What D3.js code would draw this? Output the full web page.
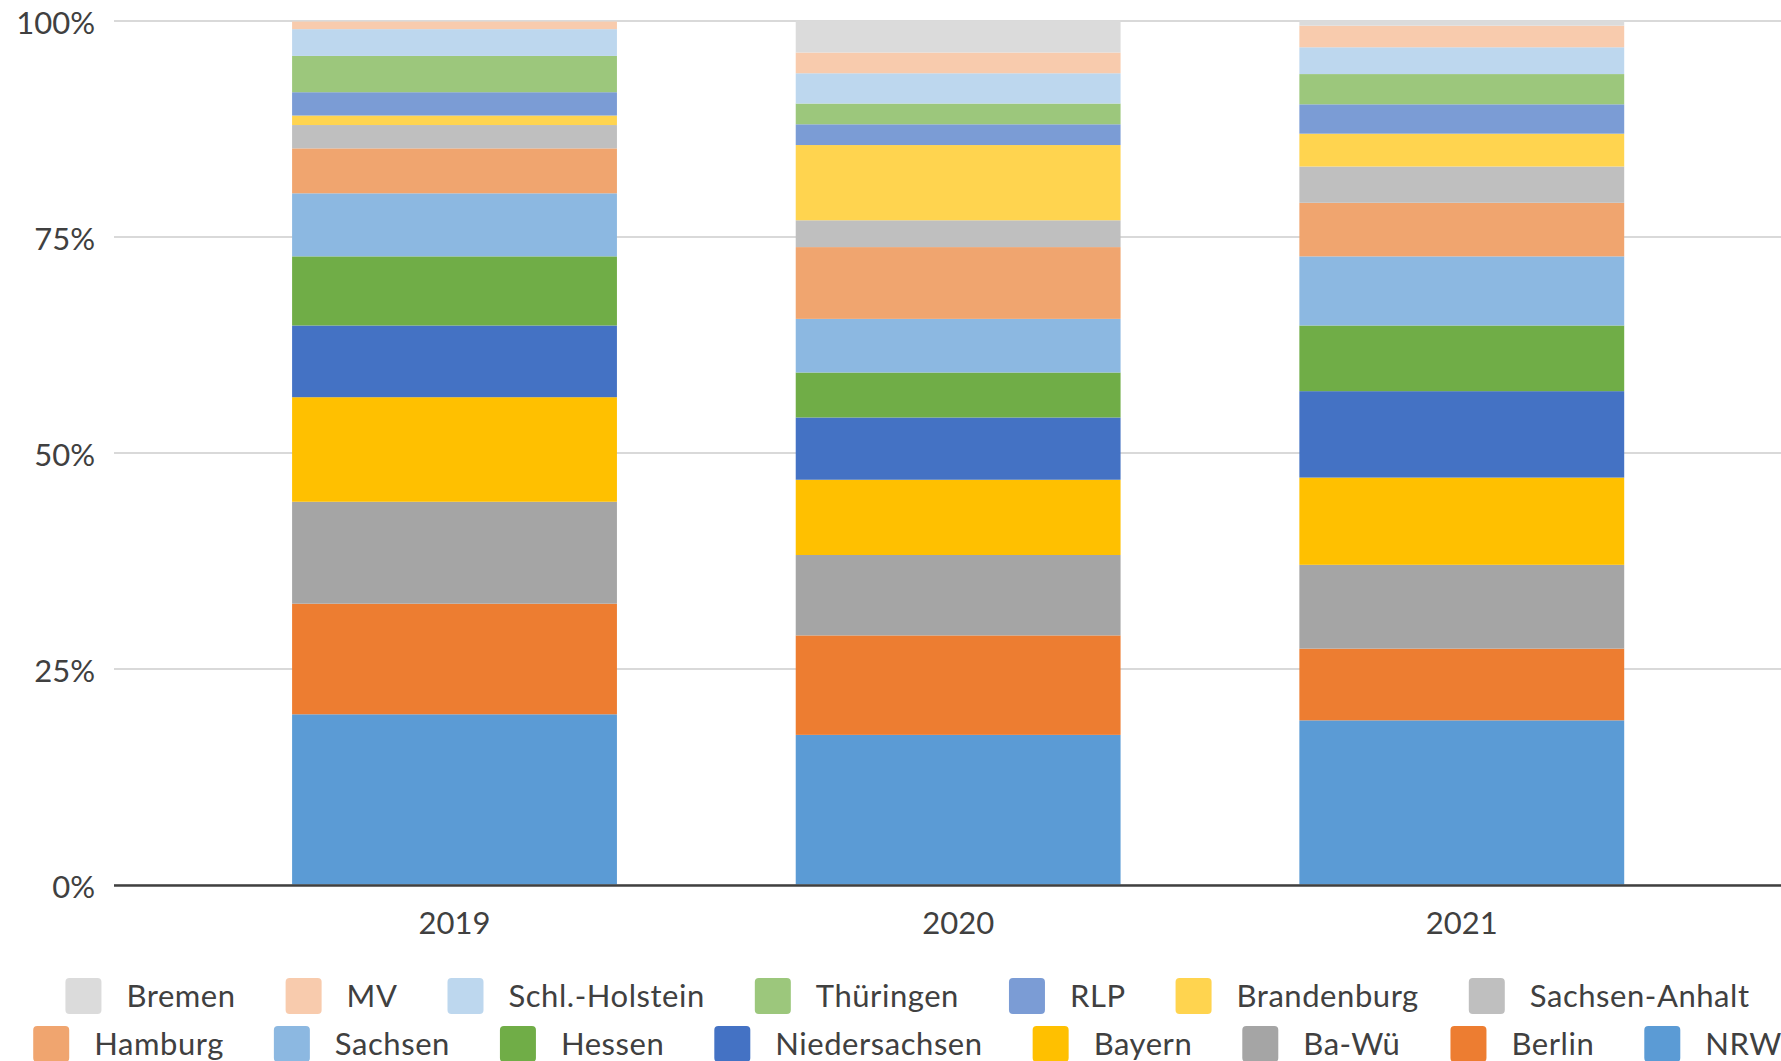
<!DOCTYPE html>
<html>
<head>
<meta charset="utf-8">
<script src="https://cdn.jsdelivr.net/npm/d3@7"></script>
<style>
  html, body { margin: 0; padding: 0; background: #ffffff; }
  svg { display: block; }
  text { font-family: Lato, "Open Sans", sans-serif; fill: #404040; }
</style>
</head>
<body>
<svg id="chart" width="1781" height="1061"></svg>
<script>
// ---- data ----
const years = ["2019", "2020", "2021"];
// series in stacking order (bottom -> top)
const states = ["NRW", "Berlin", "Ba-Wü", "Bayern", "Niedersachsen", "Hessen", "Sachsen",
  "Hamburg", "Sachsen-Anhalt", "Brandenburg", "RLP", "Thüringen", "Schl.-Holstein", "MV", "Bremen"];
const values2019 = [19.7, 12.8, 11.8, 12.1, 8.3, 8.0, 7.3, 5.2, 2.7, 1.1, 2.7, 4.2, 3.1, 0.9, 0.1];
const values2020 = [17.3, 11.5, 9.3, 8.7, 7.2, 5.2, 6.2, 8.3, 3.1, 8.7, 2.4, 2.4, 3.5, 2.4, 3.7];
const values2021 = [19.0, 8.3, 9.7, 10.1, 10.0, 7.6, 8.0, 6.2, 4.2, 3.8, 3.4, 3.5, 3.1, 2.5, 0.6];
const colors = ["#5B9BD5", "#ED7D31", "#A5A5A5", "#FFC000", "#4472C4", "#70AD47", "#8CB8E1",
  "#F0A56F", "#BFBFBF", "#FFD44F", "#7B9CD5", "#9CC77C", "#BDD7EE", "#F8CBAD", "#DBDBDB"];
const yTicks = [0, 0.25, 0.5, 0.75, 1];
// legend rows (reverse series order, as in the original)
const legendRow1 = ["Bremen", "MV", "Schl.-Holstein", "Thüringen", "RLP", "Brandenburg", "Sachsen-Anhalt"];
const legendRow2 = ["Hamburg", "Sachsen", "Hessen", "Niedersachsen", "Bayern", "Ba-Wü", "Berlin", "NRW"];

// ---- build table ----
const valueRows = [values2019, values2020, values2021];
const table = years.map((yr, i) => {
  const row = { year: yr };
  states.forEach((s, j) => { row[s] = valueRows[i][j]; });
  return row;
});

const W = 1781, H = 1061;
const svg = d3.select("#chart");
svg.append("rect").attr("width", W).attr("height", H).attr("fill", "#fff");

const plotLeft = 114, plotRight = 1781;
const x = d3.scaleBand().domain(years).range([202.7, 1713.6]).paddingInner(0.355).paddingOuter(0.1775);
const y = d3.scaleLinear().domain([0, 1]).range([884.5, 20.5]);
const color = d3.scaleOrdinal().domain(states).range(colors);

// gridlines + y labels
const yAxis = d3.axisLeft(y).tickValues(yTicks).tickFormat(d3.format(".0%"))
  .tickSize(-(plotRight - plotLeft)).tickPadding(19);
const gy = svg.append("g").attr("transform", `translate(${plotLeft},0)`).call(yAxis);
gy.select(".domain").remove();
gy.selectAll(".tick line").attr("stroke", "#D9D9D9").attr("stroke-width", 2);
gy.selectAll(".tick text").attr("font-size", 31).attr("dy", "0.42em")
  .style("font-family", "Lato, 'Open Sans', sans-serif").attr("fill", "#404040");

// stacked bars
const stack = d3.stack().keys(states).offset(d3.stackOffsetExpand);
const series = stack(table);
svg.append("g").selectAll("g").data(series).join("g")
  .attr("fill", d => color(d.key))
  .selectAll("rect").data(d => d).join("rect")
  .attr("x", d => x(d.data.year))
  .attr("width", x.bandwidth())
  .attr("y", d => y(d[1]))
  .attr("height", d => Math.max(0, y(d[0]) - y(d[1])));

// baseline
svg.append("line").attr("x1", plotLeft).attr("x2", plotRight)
  .attr("y1", y(0) + 1).attr("y2", y(0) + 1)
  .attr("stroke", "#404040").attr("stroke-width", 2.5);

// x axis labels
const xAxis = d3.axisBottom(x).tickSize(0).tickPadding(27);
const gx = svg.append("g").attr("transform", `translate(0,${y(0)})`).call(xAxis);
gx.select(".domain").remove();
gx.selectAll(".tick text").attr("font-size", 31)
  .style("font-family", "Lato, 'Open Sans', sans-serif").attr("fill", "#404040");

// legend
const sw = 36, gapText = 25, gapItem = 50, legendCenter = 907.5;
function drawRow(names, cy) {
  const g = svg.append("g");
  const items = g.selectAll("g").data(names).join("g");
  items.append("rect").attr("width", sw).attr("height", sw).attr("rx", 4)
    .attr("y", cy - sw / 2).attr("fill", d => color(d));
  items.append("text").attr("x", sw + gapText).attr("y", cy).attr("dy", "0.37em")
    .attr("font-size", 31).attr("letter-spacing", "0.55px").text(d => d);
  let pos = 0;
  const offsets = [];
  items.each(function () {
    offsets.push(pos);
    const tw = d3.select(this).select("text").node().getComputedTextLength();
    pos += sw + gapText + tw + gapItem;
  });
  const total = pos - gapItem;
  const start = legendCenter - total / 2;
  items.attr("transform", (d, i) => `translate(${start + offsets[i]},0)`);
}
drawRow(legendRow1, 996);
drawRow(legendRow2, 1044);
</script>
</body>
</html>
